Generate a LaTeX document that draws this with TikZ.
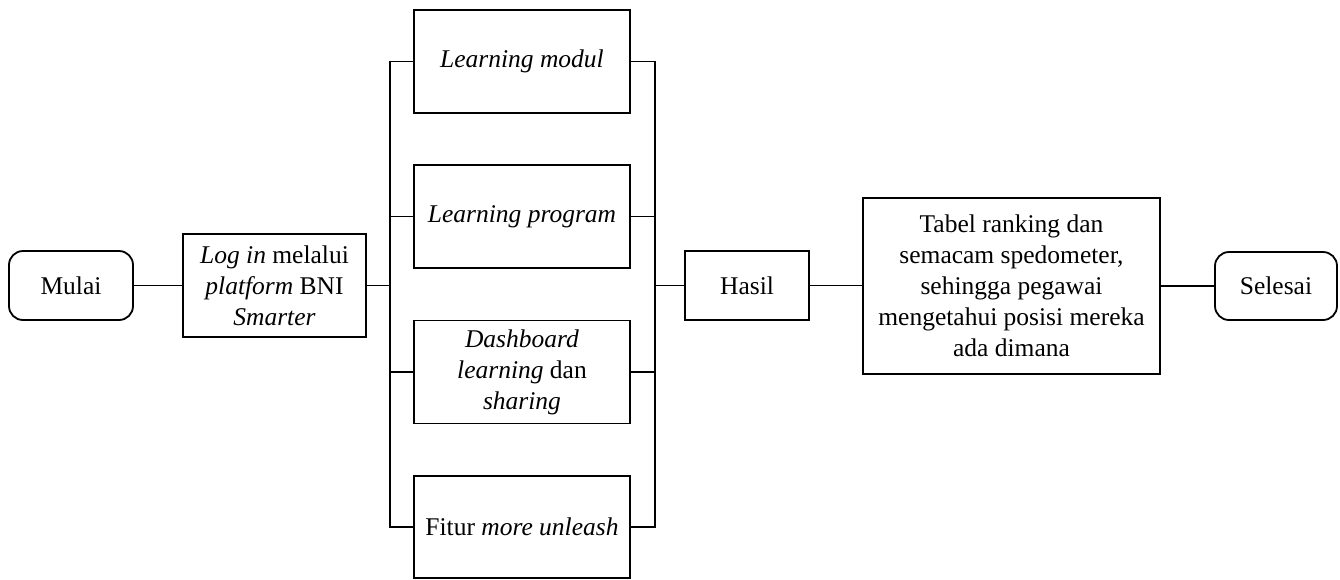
\documentclass[tikz,border=0pt]{standalone}
\usepackage{fontspec}
\setmainfont{Liberation Serif}
\begin{document}
\begin{tikzpicture}[x=1pt,y=-1pt,
  base/.style={draw=black, line width=1.8pt, align=center, inner sep=0pt,
    font=\fontsize{25.5}{31}\selectfont},
  term/.style={base, rounded corners=14pt},
  proc/.style={base},
  conn/.style={line width=1.8pt}]
\useasboundingbox[fill=white] (0,0) rectangle (1340,579);
% terminals
\node[term, minimum width=124pt, minimum height=69pt] (mulai) at (71,285.5) {Mulai};
\node[proc, minimum width=183pt, minimum height=103pt] (login) at (274.5,285.5)
  {\textit{Log in} melalui\\\textit{platform} BNI\\\textit{Smarter}};
% middle column
\node[proc, minimum width=216pt, minimum height=103pt] (m1) at (522,61.5) {\textit{Learning modul}};
\node[proc, minimum width=216pt, minimum height=103pt] (m2) at (522,216.5) {\textit{Learning program}};
\node[proc, minimum width=216pt, minimum height=103pt] (m3) at (522,372) {\textit{Dashboard}\\\textit{learning} dan\\\textit{sharing}};
\node[proc, minimum width=216pt, minimum height=102pt] (m4) at (522,527) {Fitur \textit{more unleash}};
% right part
\node[proc, minimum width=124pt, minimum height=69pt] (hasil) at (747,285.5) {Hasil};
\node[proc, minimum width=297pt, minimum height=176pt] (tabel) at (1011.5,286)
  {Tabel ranking dan\\semacam spedometer,\\sehingga pegawai\\mengetahui posisi mereka\\ada dimana};
\node[term, minimum width=122pt, minimum height=68pt] (selesai) at (1276,286) {Selesai};
% bus points
\coordinate (bl) at (390,285.5);
\coordinate (br) at (655,285.5);
% connectors
\draw[conn] (mulai.east) -- (login.west);
\draw[conn] (login.east) -- (bl);
\draw[conn] (m1.west) -| (bl) |- (m4.west);
\draw[conn] (m2.west) -- (m2.west -| bl);
\draw[conn] (m3.west) -- (m3.west -| bl);
\draw[conn] (m1.east) -| (br) |- (m4.east);
\draw[conn] (m2.east) -- (m2.east -| br);
\draw[conn] (m3.east) -- (m3.east -| br);
\draw[conn] (br) -- (hasil.west);
\draw[conn] (hasil.east) -- (hasil.east -| tabel.west);
\draw[conn] (tabel.east |- selesai.west) -- (selesai.west);
\end{tikzpicture}
\end{document}
